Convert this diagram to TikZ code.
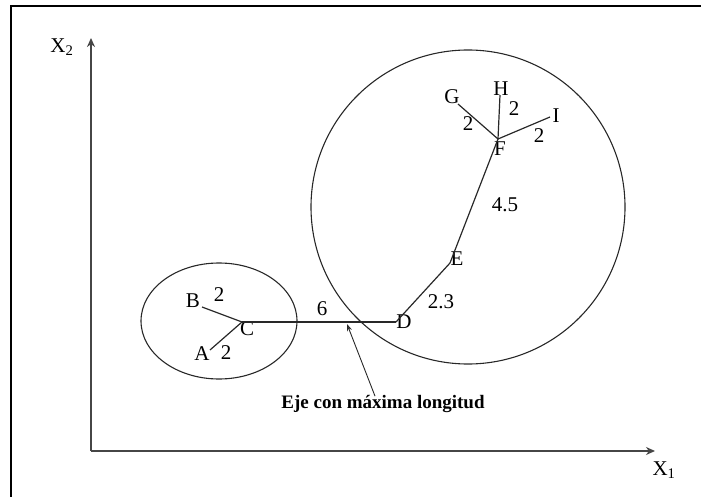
\documentclass[tikz,border=0pt]{standalone}
\usepackage{fontspec}
\setmainfont{Liberation Serif}
\usetikzlibrary{arrows.meta,shapes,positioning,calc}
\definecolor{eje}{RGB}{70,70,70}
\definecolor{trazo}{RGB}{40,40,40}
\tikzset{
  lbl/.style={font=\fontsize{21}{23}\selectfont,inner sep=0pt},
  peso/.style={font=\fontsize{21}{23}\selectfont,inner sep=0pt},
  arista/.style={draw=trazo,line width=1.2pt},
  grupo/.style={draw=trazo,line width=1.1pt},
  ejes/.style={draw=eje,line width=2pt,-{Stealth[length=9pt,width=8pt]}}
}
\begin{document}
\begin{tikzpicture}[x=1pt,y=-1pt]
      \useasboundingbox (0,0) rectangle (701,497);
      \draw[line width=2pt] (11,497) -- (11,6.5) -- (701,6.5);
      % ejes
      \coordinate (o) at (91,451);
      \coordinate (ytop) at (91,38);
      \coordinate (xend) at (655,451);
      \draw[ejes] (o) -- (ytop);
      \draw[ejes] (o) -- (xend);
      \node[lbl] (x2) at (62,47) {X\textsubscript{2}};
      \node[lbl] (x1) at (664,470) {X\textsubscript{1}};
      % grupos
      \draw[grupo] (219,321) ellipse [x radius=78,y radius=58];
      \draw[grupo] (468,207) circle [radius=157];
      % puntos
      \coordinate (a) at (210,350);
      \coordinate (b) at (202,307);
      \coordinate (c) at (242,322);
      \coordinate (d) at (396,322);
      \coordinate (e) at (450,263);
      \coordinate (f) at (498,139);
      \coordinate (g) at (458,104);
      \coordinate (h) at (500,95);
      \coordinate (i) at (550,117);
      \node[lbl] (A) at (202,354) {A};
      \node[lbl] (B) at (193,301) {B};
      \node[lbl] (C) at (247,329) {C};
      \node[lbl] (D) at (404,322) {D};
      \node[lbl] (E) at (457,259) {E};
      \node[lbl] (F) at (500,149) {F};
      \node[lbl] (G) at (452,97) {G};
      \node[lbl] (H) at (501,89) {H};
      \node[lbl] (I) at (556,116) {I};
      % aristas
      \draw[arista] (b) -- (c);
      \draw[arista] (a) -- (c);
      \draw[arista] (c) -- (d);
      \draw[arista] (d) -- (e);
      \draw[arista] (e) -- (f);
      \draw[arista] (f) -- (g);
      \draw[arista] (f) -- (h);
      \draw[arista] (f) -- (i);
      % pesos
      \node[peso] (wb) at (219,295) {2};
      \node[peso] (wa) at (226,353) {2};
      \node[peso] (wcd) at (322,309) {6};
      \node[peso] (wde) at (441,302) {2.3};
      \node[peso] (wef) at (505,205) {4.5};
      \node[peso] (wg) at (468,124) {2};
      \node[peso] (wh) at (514,109) {2};
      \node[peso] (wi) at (539,136) {2};
      % eje con maxima longitud
      \node[font=\fontsize{19}{21}\selectfont\bfseries,inner sep=0pt] (nota) at (383,404)
        {Eje con máxima longitud};
      \coordinate (punta) at (347,324);
      \draw[trazo,line width=0.9pt,-{Stealth[open,length=7pt,width=5pt]}]
        ([xshift=-8pt,yshift=-1pt]nota.north) -- (punta);
    \end{tikzpicture}
\end{document}
